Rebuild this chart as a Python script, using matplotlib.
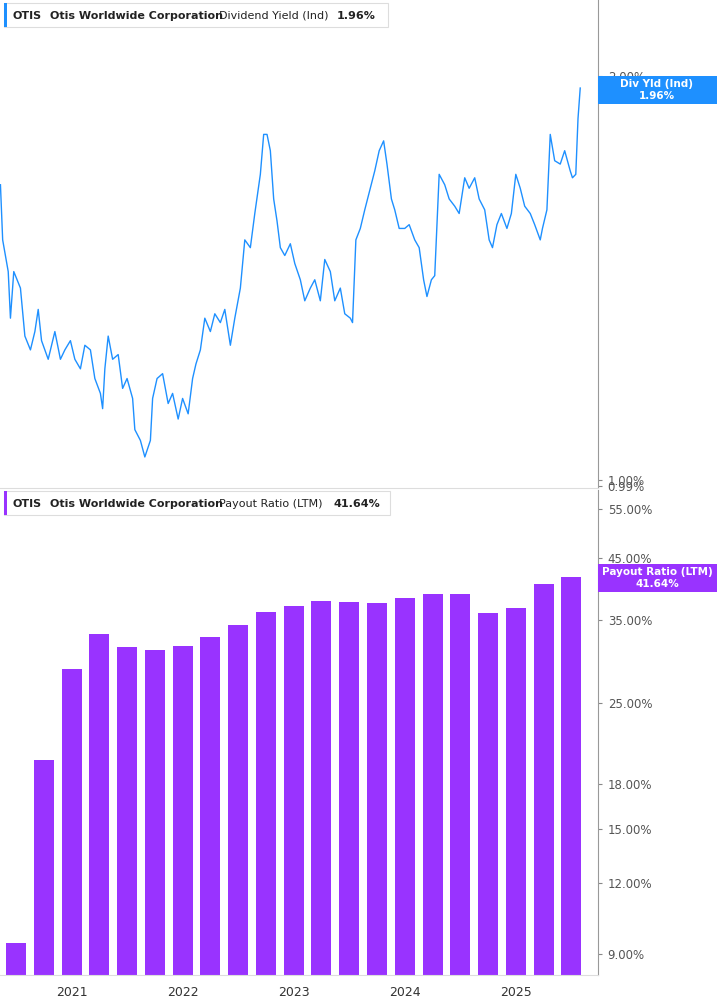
import matplotlib
matplotlib.use("Agg")
import matplotlib.pyplot as plt
from matplotlib.ticker import FixedLocator, NullLocator

dates = [2020.36,2020.38,2020.43,2020.45,2020.48,2020.54,2020.58,2020.63,2020.67,2020.70,2020.73,2020.79,2020.85,2020.90,2020.94,2020.99,
 2021.03,2021.08,2021.12,2021.17,2021.21,2021.26,2021.28,2021.30,2021.33,2021.37,2021.42,2021.46,2021.50,2021.55,2021.57,2021.62,2021.66,2021.71,2021.73,2021.77,2021.82,2021.87,2021.91,2021.96,
 2022.00,2022.05,2022.09,2022.12,2022.16,2022.20,2022.25,2022.29,2022.34,2022.38,2022.43,2022.47,2022.52,2022.56,2022.61,2022.65,2022.70,2022.73,2022.76,2022.79,2022.82,2022.85,2022.88,2022.92,2022.97,
 2023.01,2023.06,2023.10,2023.15,2023.19,2023.24,2023.28,2023.33,2023.37,2023.42,2023.46,2023.51,2023.53,2023.56,2023.60,2023.64,2023.69,2023.73,2023.77,2023.81,2023.84,2023.88,2023.91,2023.95,
 2024.00,2024.04,2024.09,2024.13,2024.17,2024.20,2024.24,2024.27,2024.31,2024.36,2024.40,2024.45,2024.49,2024.54,2024.58,2024.63,2024.67,2024.72,2024.76,2024.79,2024.83,2024.87,2024.92,2024.96,
 2025.00,2025.04,2025.08,2025.13,2025.17,2025.22,2025.24,2025.28,2025.31,2025.35,2025.40,2025.44,2025.49,2025.51,2025.54,2025.56,2025.58]
yield_pct = [1.66,1.51,1.43,1.32,1.43,1.39,1.28,1.25,1.29,1.34,1.27,1.23,1.29,1.23,1.25,1.27,
 1.23,1.21,1.26,1.25,1.19,1.16,1.13,1.21,1.28,1.23,1.24,1.17,1.19,1.15,1.09,1.07,1.04,1.07,1.15,1.19,1.20,1.14,1.16,1.11,
 1.15,1.12,1.19,1.22,1.25,1.32,1.29,1.33,1.31,1.34,1.26,1.32,1.39,1.51,1.49,1.58,1.69,1.81,1.81,1.76,1.62,1.56,1.49,1.47,1.50,
 1.45,1.41,1.36,1.39,1.41,1.36,1.46,1.43,1.36,1.39,1.33,1.32,1.31,1.51,1.54,1.59,1.65,1.70,1.76,1.79,1.72,1.62,1.59,1.54,
 1.54,1.55,1.51,1.49,1.41,1.37,1.41,1.42,1.69,1.66,1.62,1.60,1.58,1.68,1.65,1.68,1.62,1.59,1.51,1.49,1.55,1.58,1.54,1.58,
 1.69,1.65,1.60,1.58,1.55,1.51,1.54,1.59,1.81,1.73,1.72,1.76,1.70,1.68,1.69,1.86,1.96]

bar_dates = [2020.5 + 0.25 * i for i in range(21)]
payout_pct = [9.4,19.8,28.7,33.1,31.4,31.0,31.5,32.7,34.3,36.2,37.1,37.8,37.7,37.5,38.3,38.9,38.9,36.0,36.8,40.5,41.64]

year_ticks = [2021, 2022, 2023, 2024, 2025]

blue = "#1e90ff"
purple = "#9933ff"
gray = "#555555"

fig = plt.figure(figsize=(7.17, 10.05), dpi=100)
W, H = 717, 1005
ax1 = fig.add_axes([0, 1 - 488 / H, 598 / W, 488 / H])
ax2 = fig.add_axes([0, 1 - 975 / H, 598 / W, 485 / H])

xmin, xmax = 2020.356, 2025.74
for ax in (ax1, ax2):
    ax.set_xlim(xmin, xmax)
    ax.set_yscale("log")
    ax.yaxis.tick_right()
    ax.yaxis.set_minor_locator(NullLocator())
    for s in ("top", "left"):
        ax.spines[s].set_visible(False)
    ax.spines["right"].set_color("#999999")
    ax.spines["bottom"].set_color("#dddddd")
    ax.tick_params(axis="y", colors=gray, labelsize=8.5, length=3, pad=4)
    ax.tick_params(axis="y", which="major", color="#888888")

ax1.plot(dates, yield_pct, color=blue, lw=1.0)
ax1.set_ylim(0.986, 2.28)
ax1.yaxis.set_major_locator(FixedLocator([0.99, 1.0, 2.0]))
ax1.set_yticklabels(["0.99%", "1.00%", "2.00%"])
ax1.set_xticks([])

ax2.bar(bar_dates, payout_pct, width=0.18, color=purple, bottom=0.01)
ax2.set_ylim(8.27, 59.4)
pt = [9, 12, 15, 18, 25, 35, 45, 55]
ax2.yaxis.set_major_locator(FixedLocator(pt))
ax2.set_yticklabels([f"{v:.2f}%" for v in pt])
ax2.set_xticks(year_ticks)
ax2.set_xticklabels([str(y) for y in year_ticks])
ax2.tick_params(axis="x", colors="#333333", labelsize=9, length=0, pad=8)

def header(y, name, val, color, vx, bw):
    fig.patches.append(plt.Rectangle((4 / W, 1 - (y + 11) / H), bw / W, 24 / H, transform=fig.transFigure,
                                     facecolor="white", edgecolor="#dddddd", lw=0.8))
    fig.patches.append(plt.Rectangle((4 / W, 1 - (y + 11) / H), 3 / W, 24 / H, transform=fig.transFigure,
                                     facecolor=color, edgecolor="none"))
    fig.text(13 / W, 1 - y / H, "OTIS", fontsize=8, weight="bold", va="center", color="#222222")
    fig.text(50 / W, 1 - y / H, "Otis Worldwide Corporation", fontsize=8, weight="bold", va="center", color="#222222")
    fig.text(219 / W, 1 - y / H, name, fontsize=8, va="center", color="#222222")
    fig.text(vx / W, 1 - y / H, val, fontsize=8, weight="bold", va="center", color="#222222")

header(16, "Dividend Yield (Ind)", "1.96%", blue, 337, 384)
header(504, "Payout Ratio (LTM)", "41.64%", purple, 333, 386)

def rlabel(yc, t1, t2, color):
    fig.patches.append(plt.Rectangle((598 / W, 1 - (yc + 14) / H), 119 / W, 28 / H, transform=fig.transFigure,
                                     facecolor=color, edgecolor="none", zorder=5))
    fig.text(657 / W, 1 - (yc - 6) / H, t1, fontsize=7.5, weight="bold", color="white", ha="center", va="center", zorder=6)
    fig.text(657 / W, 1 - (yc + 6) / H, t2, fontsize=7.5, weight="bold", color="white", ha="center", va="center", zorder=6)

rlabel(90, "Div Yld (Ind)", "1.96%", blue)
rlabel(578, "Payout Ratio (LTM)", "41.64%", purple)

fig.savefig("out.png", dpi=100)
